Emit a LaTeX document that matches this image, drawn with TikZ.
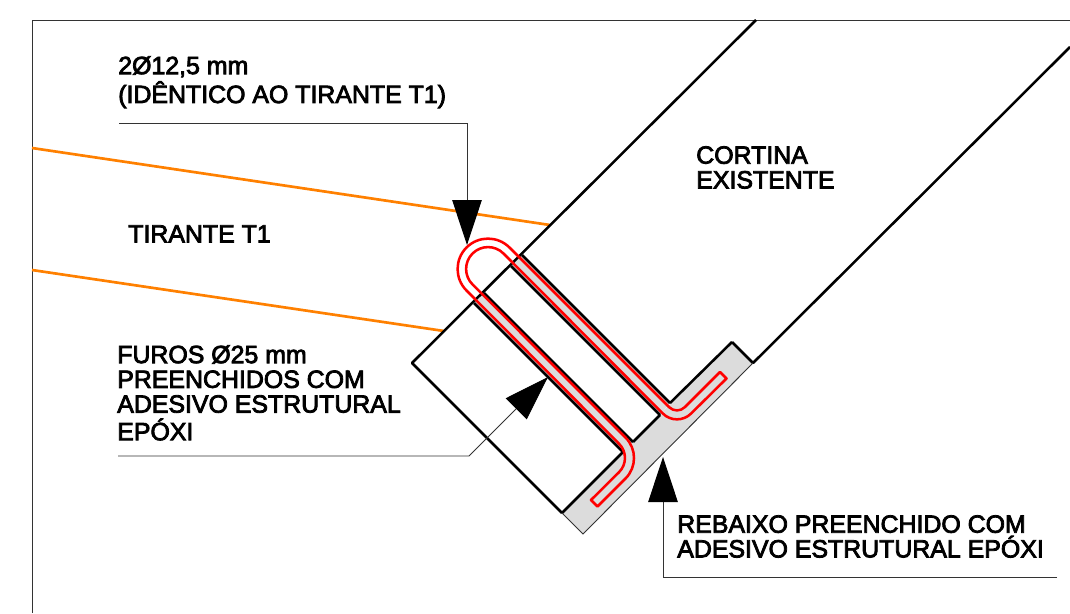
\documentclass[tikz,border=0pt]{standalone}
\usepackage{fontspec}
\newfontfamily\cadfont{Liberation Sans}[FakeBold=3.2]
\usepackage{tikz}
\usetikzlibrary{arrows.meta}

\definecolor{Tirante}{HTML}{FF8000}
\definecolor{Rebaixo}{HTML}{DCDCDC}
\definecolor{Barra}{HTML}{FF0000}

\tikzset{
    linha/.style={line width=1.8pt, line join=round},
    linhafina/.style={line width=0.65pt, black!80},
    tirante/.style={line width=1.9pt, color=Tirante},
    barra/.style={line width=1.8pt, color=Barra, line join=round},
    seta/.style={linhafina, -{Triangle[length=32pt,width=21pt,color=black]}},
    rotulo/.style={inner sep=0pt, anchor=north west, align=left, font=\cadfont\fontsize{17.7}{17.6}\selectfont}
}

\begin{document}
\begin{tikzpicture}[x=0.025cm,y=-0.025cm]

    \useasboundingbox (0,0) rectangle (1070,613);

    %Coloring
    \fill[color=Rebaixo] (562,513) -- (732,342) -- (753,363) -- (583,534) -- cycle; %Rebaixo
    \fill[color=Rebaixo] (522,255) -- (670,403) -- (660,415) -- (511,266) -- cycle; %Furo 1
    \fill[color=Rebaixo] (484,293) -- (633,442) -- (623,452) -- (474,303) -- cycle; %Furo 2

    %Frame
    \draw[linhafina] (32,613) -- (32,20) -- (1070,20);

    %Tirante
    \draw[tirante] (32,148) -- (550,225); %Top line
    \draw[tirante] (32,270) -- (444,331); %Lower line

    %Cortina
    \draw[linha] (756,20) -- (412,363) -- (562,513); %Left lines
    \draw[linha] (732,342) -- (753,363) -- (1070,47); %Right lines
    \draw[linha] (562,513) -- (623,452); %Rebaixo, part 1
    \draw[linha] (633,442) -- (660,415); %Rebaixo, part 2
    \draw[linha] (670,403) -- (732,342); %Rebaixo, part 3
    \draw[linhafina] (562,513) -- (583,534) -- (753,363); %Rebaixo, outer line

    %Furos
    \draw[linha] (522,255) -- (670,403); %Furo 1, top line
    \draw[linha] (511,266) -- (660,415); %Furo 1, lower line
    \draw[linha] (484,293) -- (633,442); %Furo 2, top line
    \draw[linha] (474,303) -- (623,452); %Furo 2, lower line

    %Barra
    \draw[barra] (591,500) -- (619.1,472.1)
        arc[start angle=45,end angle=-45,radius=20] -- (466.5,290.5)
        arc[start angle=135,end angle=315,radius=30.4] -- (669.2,407.2)
        arc[start angle=135,end angle=45,radius=11] -- (720,372) -- (726.5,378.5) -- (691.1,413.5)
        arc[start angle=45,end angle=135,radius=20] -- (503.5,253.5)
        arc[start angle=315,end angle=135,radius=21.9] -- (625.5,437.5)
        arc[start angle=-45,end angle=45,radius=29] -- (597.5,506.5) -- cycle;

    %Texts
    \node[rotulo] (bitola) at (118,56) {2Ø12,5 mm\\[1.8pt](IDÊNTICO AO TIRANTE T1)};
    \node[rotulo] (tirantet) at (128,225) {TIRANTE T1};
    \node[rotulo] (cortina) at (696,146) {CORTINA\\EXISTENTE};
    \node[rotulo] (furos) at (117,345) {FUROS Ø25 mm\\PREENCHIDOS COM\\ADESIVO ESTRUTURAL\\[2pt]EPÓXI};
    \node[rotulo] (rebaixo) at (677,515) {REBAIXO PREENCHIDO COM\\ADESIVO ESTRUTURAL EPÓXI};

    %Leaders
    \coordinate (bitolaini) at (119,123);
    \coordinate (bitolacanto) at (467,123);
    \coordinate (bitolafim) at (467,245);
    \draw[seta] (bitolaini) -- (bitolacanto) -- (bitolafim);

    \coordinate (furosini) at (118,456);
    \coordinate (furoscanto) at (469,456);
    \coordinate (furosfim) at (548,377);
    \draw[seta] (furosini) -- (furoscanto) -- (furosfim);

    \coordinate (rebaixoini) at (1057,577);
    \coordinate (rebaixocanto) at (663,577);
    \coordinate (rebaixofim) at (663,457);
    \draw[seta] (rebaixoini) -- (rebaixocanto) -- (rebaixofim);

\end{tikzpicture}
\end{document}
